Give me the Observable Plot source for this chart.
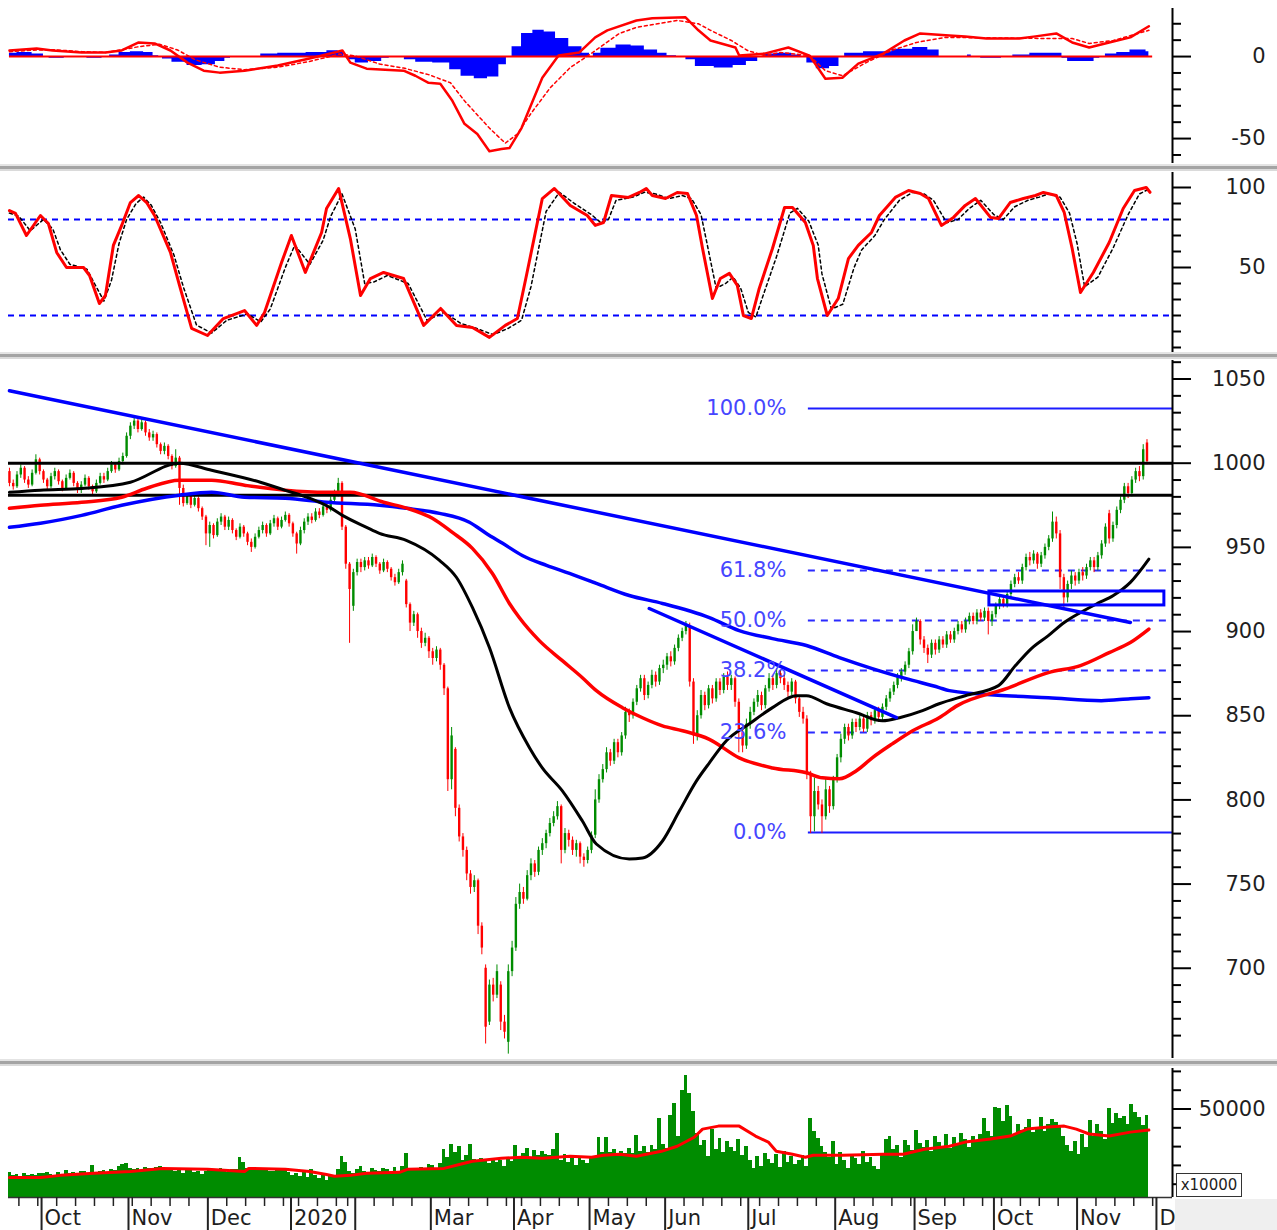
<!DOCTYPE html>
<html><head><meta charset="utf-8">
<script src="https://cdn.jsdelivr.net/npm/d3@7"></script>
<script src="https://cdn.jsdelivr.net/npm/@observablehq/plot@0.6"></script>
<style>
html,body{margin:0;padding:0;background:#fff;}
#chart{position:relative;width:1277px;height:1230px;overflow:hidden;background:#fff;font-family:"DejaVu Sans",sans-serif;}
#chart svg{position:absolute;left:0;}
.ov{position:absolute;z-index:5;}
</style></head><body><div id="chart"></div><script>
// ---------------- calendar (trading days) ----------------
const calendarStart = "2019-09-18", calendarEnd = "2020-12-05";
const holidays = ["2020-01-01","2020-01-23","2020-01-24","2020-01-27","2020-01-28","2020-01-29","2020-04-02","2020-04-30","2020-05-01","2020-09-02"];
const monthLabels = ["Oct","Nov","Dec","2020","","Mar","Apr","May","Jun","Jul","Aug","Sep","Oct","Nov","Dec"];

// ---------------- daily candles (index 0 = 2019-09-18) ----------------
const open = [995,988,986,993,997,990,987,994,1002,
995,990,986,992,995,989,985,991,994,988,984,987,991,986,983,988,992,990,995,999,996,1001,1004,
1016,1022,1025,1020,1024,1018,1015,1017,1011,1007,1010,1004,998,1003,985,976,980,975,979,973,968,
958,963,957,965,968,962,966,960,956,962,958,953,950,956,960,963,958,964,967,962,966,969,
964,958,952,960,965,968,966,971,969,974,972,978,982,988,962,940,915,
935,941,938,942,939,944,940,936,941,937,932,929,935,930,916,905,910,900,893,896,
888,884,889,880,866,812,830,795,778,770,756,748,752,725,700,668,690,684,690,668,656,698,
712,738,745,741,755,762,757,770,774,780,786,790,796,770,780,776,770,774,766,764,
770,779,800,812,818,828,823,834,828,838,852,850,858,866,872,862,868,874,870,878,
880,885,882,890,896,900,903,870,838,850,862,856,866,860,870,865,873,868,872,858,840,832,
845,852,858,862,856,866,872,868,875,872,868,864,870,860,852,848,815,790,805,797,790,806,796,
812,825,836,843,838,846,843,848,842,850,847,853,849,855,860,864,868,873,876,880,888,
900,906,895,890,886,893,889,895,892,898,895,900,904,901,906,909,906,911,908,912,906,
910,915,919,916,922,928,932,930,938,944,942,946,940,945,950,955,965,958,932,920,928,933,
930,935,933,938,942,938,945,952,970,955,963,972,978,986,982,990,995,992,1012];
const close = [988,986,993,997,990,987,994,1002,995,
990,986,992,995,989,985,991,994,988,984,987,991,986,983,988,992,990,995,999,996,1001,1004,1016,
1022,1025,1020,1024,1018,1015,1017,1011,1007,1010,1004,998,1003,985,976,980,975,979,973,968,958,
963,957,965,968,962,966,960,956,962,958,953,950,956,960,963,958,964,967,962,966,969,964,
958,952,960,965,968,966,971,969,974,972,978,982,988,962,940,925,935,
941,938,942,939,944,940,936,941,937,932,929,935,940,916,905,910,900,893,896,888,
884,889,880,866,812,838,795,778,770,756,748,752,725,712,665,690,684,698,668,662,698,712,
738,745,741,755,762,757,770,774,780,786,790,796,770,780,776,770,774,766,764,770,
779,800,812,818,828,823,834,828,838,852,850,858,866,872,862,868,874,870,878,880,
885,882,890,896,900,904,870,838,850,862,856,866,860,870,865,873,868,872,858,840,832,845,
852,858,862,856,866,872,868,875,872,868,864,870,860,852,848,815,790,805,797,790,806,796,812,
825,836,843,838,846,843,848,842,850,847,853,849,855,860,864,868,873,876,880,888,900,
906,895,890,886,893,889,895,892,898,895,900,904,901,906,909,906,911,908,912,906,910,
915,919,916,922,928,932,930,938,944,942,946,940,945,950,955,965,958,932,920,928,933,930,
935,933,938,942,938,945,952,962,955,963,972,978,986,982,990,995,992,1008,1001];
const high = [997,990,995,999,998,992,996,1005,1003,
996,991,994,997,996,990,993,996,995,989,989,993,992,987,990,994,994,997,1001,1000,1003,1006,1018,
1024,1028,1026,1026,1025,1020,1019,1018,1012,1012,1011,1005,1008,1004,987,982,981,981,980,974,969,
965,964,967,970,969,968,967,961,964,963,959,955,958,962,965,964,966,969,968,968,971,970,
965,959,962,967,970,970,973,973,976,976,980,984,991,989,963,941,937,
943,943,944,944,946,945,941,943,942,938,934,937,942,931,917,912,911,902,899,897,
890,891,890,881,867,843,831,797,780,772,758,755,753,727,702,693,694,702,692,672,702,716,
742,750,748,758,765,764,772,777,782,789,793,799,797,783,782,778,776,775,768,772,
781,806,815,821,831,830,836,836,840,855,854,860,868,874,874,870,877,876,880,883,
887,888,892,898,902,906,905,872,853,865,864,868,868,872,872,875,876,874,873,860,842,848,
855,860,865,864,868,875,874,878,877,874,870,872,871,862,855,850,817,813,808,800,813,808,814,
827,839,845,845,848,848,850,850,852,852,855,855,857,862,866,870,875,878,882,890,904,
908,907,897,892,895,895,897,897,900,900,902,906,906,908,911,911,913,913,914,914,912,
917,921,921,924,930,934,935,940,946,947,948,947,947,952,957,971,968,960,934,930,936,935,
937,938,940,944,944,947,954,964,972,965,974,980,988,988,992,997,998,1011,1014];
const low = [986,984,985,991,988,985,986,993,993,
988,984,985,990,987,983,984,990,986,982,982,986,984,981,982,987,988,989,994,994,995,999,1003,
1014,1020,1018,1019,1016,1013,1013,1009,1005,1005,1002,996,997,975,974,975,973,974,971,966,951,
950,955,956,963,960,960,958,954,955,956,951,947,949,955,958,956,957,962,960,961,965,962,
956,946,951,958,963,964,965,967,968,970,971,976,980,960,937,893,912,
933,935,936,937,938,938,934,935,935,930,927,928,933,914,900,903,896,890,891,884,
880,882,877,862,805,806,790,775,766,752,744,745,720,708,655,666,680,682,663,658,649,695,
710,735,738,740,752,754,755,767,771,778,784,788,762,768,772,767,766,762,760,762,
768,777,798,810,816,820,821,825,826,836,846,848,856,864,859,860,866,867,868,875,
877,879,880,888,894,898,867,833,835,848,853,854,857,858,862,863,865,865,855,828,828,830,
842,850,855,853,854,864,865,866,869,865,861,862,857,849,845,812,780,781,794,780,788,792,794,
810,822,833,835,836,840,841,840,840,844,845,846,847,853,858,862,866,870,874,878,886,
900,892,887,881,884,886,887,890,890,893,893,898,899,899,904,904,904,906,906,898,903,
908,913,914,914,920,926,928,928,936,939,940,937,938,943,948,953,955,925,914,917,925,927,
928,930,931,936,935,936,943,950,952,953,961,970,976,979,980,988,989,990,999];
const volume = [16000,14500,15000,14000,15500,14800,15200,14600,15800,
15500,16000,15200,14800,16200,15000,17500,15600,16000,15800,16500,17000,15400,20000,16200,16800,17500,16400,18000,17200,19500,20500,20800,18500,
17800,18600,17000,19000,18200,17500,18800,19200,18000,17600,18400,16500,17800,15800,17200,18500,16000,17000,15200,16800,
17500,18000,16800,18600,17200,16400,18000,17800,24000,21500,18400,17800,18800,18200,17600,18600,17000,16800,17900,18300,17600,16000,
14500,15800,14200,16200,13800,17800,14600,12800,15400,12200,14600,13500,17800,25000,21600,16500,15800,
17600,19200,16800,15600,18200,17400,16600,18400,17800,15800,18800,16200,19200,26500,18600,17800,18400,19000,18200,20500,
19800,18600,21000,28500,24200,31000,27000,30000,22800,25500,31200,23000,21800,23600,22400,20800,23400,21600,22600,19600,23000,22000,
30500,24600,26500,29000,24200,27800,25200,27600,26000,25400,28200,37000,22800,25600,21800,24200,19800,23600,22400,21000,
23800,24600,34800,27000,34600,26800,28600,25200,27400,26400,28800,26200,36000,27500,29800,26800,30400,28200,44800,31000,
29200,46500,52800,35500,60000,68000,58000,48500,37000,30500,33400,24600,39000,28600,34200,26800,32600,29400,27600,33600,25400,30200,
22800,18200,24500,19200,26500,23200,20800,25600,19000,27200,21800,24600,20400,22800,25400,19200,44800,38000,34400,29800,27000,24200,32600,
20500,26800,22600,18400,25200,23800,20600,27400,21800,24400,19600,17600,26000,33800,35400,28200,30600,24400,33000,30800,27800,
38800,31600,29400,33400,27600,35200,32400,30200,36400,28800,34800,31600,37200,33800,29600,35600,32800,36400,44800,38200,35400,
51000,50200,43600,51600,45800,36400,42000,38600,40400,44600,37400,39400,45600,37800,41600,44200,42800,40600,35200,30400,27200,32600,
25800,36200,29600,43800,35200,41600,37800,33600,50200,42200,47600,44800,46200,41800,52600,48400,45400,41200,46600];

// ---------------- moving averages / indicators: [day index, value] ----------------
const maBlack = [[0,982.7],[8.2,984],[19.1,985],[32,988.7],[45,1000],[53.5,995.8],[66.4,988.7],[73,983.9],[79.4,979.2],[84.7,973.8],[88.1,969],[94.5,961.9],[97.9,958.3],[105,954.2],[113.8,942.3],[118.3,932.1],[122.5,914.3],[127,890.5],[132.3,854.8],[137.6,831],[141,819],[146.3,805.4],[151.6,787.5],[155.3,773.8],[164,764.9],[167.5,765.5],[172.8,775.6],[177.3,793.5],[181.8,811.3],[185.2,822],[189.7,835.1],[195.8,845.2],[201.9,854.8],[208.2,861.9],[210.9,861.9],[216.2,857.1],[224.1,851.8],[231,847],[235.5,848.8],[241.6,853],[246,857.1],[252.9,861.9],[261.7,867.9],[266.2,879.8],[270.4,889.9],[274.9,897.6],[279.1,905.4],[283.4,911.3],[287.9,916.7],[292.1,921.4],[296.6,929.2],[301.5,943]];
const maRed = [[0,973.2],[8.2,975],[19.1,976.8],[29.7,979.8],[36.3,985.1],[45,989.9],[53.5,989.9],[62.2,986.9],[73,983.9],[83.9,982.7],[90.2,982.7],[99,976.8],[105.3,973.2],[111.9,967.3],[117.2,958.9],[122.5,949.4],[127.8,934.5],[132.3,916.7],[134.9,908.3],[140.2,894.6],[146.3,882.7],[151.6,872.6],[155.3,864.9],[162.2,854.8],[167.5,848.8],[172.8,844],[178.1,841.1],[185.2,836],[193.1,825],[201.9,819],[210.9,816.1],[215.1,813.1],[219.6,812.5],[224.1,817.3],[228.3,825],[233.6,833.3],[239,841.1],[246,848.8],[250.8,856],[263.8,866.1],[274.9,875.6],[283.4,879.8],[291,887.5],[296.6,893.5],[301.5,901.5]];
const maBlue = [[0,961.9],[8.2,964.3],[19.1,969],[29.7,975],[45,981],[53.5,982.7],[62.2,979.8],[73,979.2],[83.9,976.8],[97.9,975],[105,973.2],[113.8,970.2],[121.7,964.9],[126.2,958.3],[130.5,952.4],[135.7,945.2],[142.1,939.3],[148.2,934.5],[155.3,928.6],[164,921.4],[172.8,916.7],[185.2,908.3],[193.1,900.6],[201.9,895.8],[210.9,891.7],[219.6,884.5],[228.3,878],[237.3,872],[246,866.7],[248.7,864.9],[263.8,861.9],[274.9,860.7],[288.9,858.9],[296.6,860.1],[301.5,860.7]];
const trendLong = [[0,1043],[296.6,905.4]];
const trendShort = [[169.3,913.7],[234.7,848.9]];
const zoneBox = [{a:259.3, b:305.6, lo:915.5, hi:923.8}];
const levelLines = [1000, 981];
const fibLow = 780.6, fibHigh = 1032.5, fibStartIdx = 211.4;
const fibPercents = [100, 61.8, 50, 38.2, 23.6, 0];

const macdLine = [[0,3.7],[7.2,4.9],[11.4,3.7],[19.1,2.5],[25.4,2.5],[29.7,3.7],[34.2,8.6],[38.4,8],[42.6,3.7],[47.1,-3.7],[51.4,-8.6],[55.6,-9.8],[62.2,-8.6],[71,-5.5],[79.4,-1.2],[86,2.5],[88.1,3.7],[90.2,-3.7],[94.5,-7.4],[104.3,-8.6],[107.4,-11.7],[110.9,-16],[114,-16.6],[117.2,-27],[120.4,-41],[123.8,-47.2],[127,-57.7],[130.2,-56.4],[132.3,-55.8],[135.5,-43.6],[141,-12.9],[145.3,0.6],[150.8,2.5],[155,11.7],[158.2,16],[165.9,22],[170.1,23.3],[178.9,23.9],[182.3,16],[185.5,9.8],[192.1,5.5],[193.1,0.6],[199.8,1.8],[206.1,5.5],[211.7,0.6],[215.9,-13.5],[220.4,-12.9],[224.6,-4.3],[231.2,1.8],[236.8,9.8],[241,14.1],[248.7,12.9],[252.9,12.3],[258.5,11],[267.2,11],[271.5,12.3],[277,14.1],[281.2,8.6],[285.7,5.5],[291,8.6],[296.6,11.7],[301.5,18.5]];
const macdSignal = [[0,3],[7.2,4],[11.4,4.2],[19.1,3],[25.4,2.5],[34.2,6],[39.7,7.5],[44.5,4],[49.2,-2],[55.6,-6.5],[62.2,-8],[71,-6.5],[79.4,-3],[87.3,1.5],[91.3,0.5],[97.9,-4.5],[104.3,-7],[110.9,-11],[116.7,-16],[120.4,-27],[127,-43.6],[131.2,-52.8],[134.4,-47.2],[137.9,-35],[143.1,-19],[148.4,-6.7],[153.9,1.8],[161.4,14.1],[165.9,17.8],[176.7,22],[182.3,20],[185.5,16],[191,9.8],[195.3,3.7],[199.8,0.6],[204,2.5],[211.7,0.6],[215.9,-8.6],[220.4,-11.7],[226.7,-3.7],[233.4,3.7],[240,8.6],[247.6,11.7],[274.9,11],[281.2,11],[285.7,8],[292.1,9.8],[301.5,16]];
const macdHist = [[0,2],[4,2.5],[8,1.5],[10,0],[11,-1],[14,-1],[15,0],[20,0],[21,-1],[24,-1],[25,0],[28,1],[30,2.5],[34,3],[37,2.5],[39,0.5],[40,0],[41,-1.5],[45,-3.5],[49,-5.5],[53,-5],[56,-3],[58,-1],[59,0],[66,0],[67,1.5],[75,2],[82,2.5],[86,3.5],[88,3],[89,0],[90,-2],[93,-4],[97,-3],[100,-1],[101,0],[104,0],[105,-2],[110,-3.5],[114,-4],[115,-4],[118,-8],[121,-12],[125,-13.5],[128,-12.5],[131,-5],[132,0],[134,6],[137,14],[140,16],[143,15],[146,11],[150,6],[153,2],[154,0],[155,2],[158,5],[163,7],[166,6.5],[170,4],[173,2],[175,0.5],[178,0],[180,-2],[183,-6],[190,-7],[193,-5.5],[197,-3],[199,0],[200,1.5],[205,2],[209,1],[210,0],[212,-4],[215,-7.5],[219,-6],[220,0],[222,2],[230,3],[237,4.5],[241,5.5],[245,4],[247,0],[253,0],[254,1],[255,0],[259,-1],[262,-1],[263,0],[268,1],[272,2],[278,2],[279,-1],[281,-3],[286,-3],[288,-1],[289,0],[291,1.5],[295,2.5],[298,4],[300,4],[301.5,3]];
const macdZeroSpan = [0, 302.5];

const stochK = [[0,85.6],[1.6,83.8],[4.5,70],[8.2,82.5],[10.3,77.5],[12.5,59.4],[15.1,50],[19.6,50],[21.2,45],[23.8,27.5],[25.4,32.5],[27.5,63.8],[29.7,76.3],[32,90.6],[34.2,95],[36.3,90.6],[38.4,82.5],[42.6,59.4],[45,38.8],[48.2,11.9],[52.4,7.5],[56.6,18.1],[62.2,23.1],[65.4,13.8],[67.5,21.9],[72,53.1],[74.6,70],[78.3,46.9],[82.6,71.9],[83.9,86.9],[87.1,99.4],[90.2,68.1],[92.9,32.5],[95.5,43.1],[99,46.9],[104.3,43.1],[109.6,13.8],[114.1,24.4],[118.3,13.8],[122.5,12.5],[127,6.3],[131.2,13.8],[134.4,18.1],[136.8,45],[141,93.1],[144.2,99.4],[148.4,88.8],[152.9,82.5],[155,76.3],[157.2,78.1],[159.3,95],[163.8,93.8],[166.7,96.9],[168.5,99.4],[170.1,95],[173.6,93.1],[176.7,96.9],[179.4,96.3],[181.8,82.5],[183.4,61.9],[186,30.6],[188.1,43.1],[190.5,46.3],[192.6,38.8],[194.2,20],[196.3,18.1],[198.4,36.9],[201.9,61.9],[205.1,87.5],[207.2,87.5],[210.6,78.1],[212.7,63.8],[213.8,43.1],[216.4,20],[219.3,30.6],[222,55.6],[224.6,63.8],[228.1,71.9],[230.2,82.5],[234.4,93.8],[237.9,98.1],[241,96.3],[243.2,93.1],[246.6,76.3],[249.8,81.3],[252.9,88.8],[255.6,93.1],[259.6,81.3],[261.7,80.6],[264.8,90.6],[268.3,93.1],[271.5,95],[273.6,96.9],[277,95],[279.1,84.4],[281.2,61.9],[283.4,34.4],[286.8,46.9],[291,65.6],[294.7,86.9],[297.7,98.1],[300.8,100],[301.8,97]];
const stochD = [[0,84],[2.5,82],[5.5,73],[9,80],[11.5,74],[13.5,61],[16,52],[20.5,49],[22.5,40],[25,29],[27,42],[29,65],[31,80],[33.5,90],[35.5,94],[37.5,89],[40,78],[43.5,58],[46,38],[49.5,14],[53.5,9],[57.5,17],[63,21],[66.5,16],[69,24],[73,50],[75.5,64],[79.5,52],[83,67],[85,82],[88,96],[91.5,74],[94,40],[96.5,41],[100,45],[105.5,40],[110.5,17],[115,22],[119.5,15],[123.5,12],[128,8],[132,12],[135.5,17],[138,38],[142,85],[145.5,97],[149.5,90],[154,83],[156.5,78],[158.5,80],[160.5,92],[165,94],[168,97],[171,96],[174.5,93],[178,95],[180.5,93],[183,83],[184.5,66],[187,37],[189.5,40],[191.5,44],[193.5,37],[195.5,22],[197.5,19],[199.5,33],[203,57],[206.5,84],[208.5,87],[211.5,79],[214,64],[215,46],[217.5,24],[220.5,27],[223.5,50],[225.5,61],[229,70],[231.5,80],[235.5,92],[239,97],[242,96],[244.5,92],[248,78],[251,80],[254,87],[257,92],[260.5,83],[263,80],[266,88],[269.5,92],[272.5,94],[275,96],[278,94],[280.5,84],[282.5,65],[284.5,38],[288,44],[292,62],[296,83],[299,96],[301.5,99]];
const stochBands = [80, 20];

const volMA = [[0,13600],[8.2,13600],[13.5,14700],[22.3,15800],[32,16800],[40.5,18400],[52.4,17900],[62.2,16800],[63.3,18400],[73,17900],[79.4,16800],[83.9,15200],[86,14200],[90.2,14700],[94.5,15800],[103.2,16300],[105.3,17900],[115,18400],[119.3,20600],[122.5,22200],[130.2,23800],[135.5,24300],[141,23800],[148.4,24900],[154,24300],[157.2,25400],[161.4,25900],[165.9,24900],[172.5,27500],[176.7,30200],[181.2,35000],[183.4,39300],[187.6,40900],[193.1,40900],[197.4,35600],[200.8,32400],[202.9,27500],[207.2,25900],[210.6,24300],[212.7,25400],[220.4,25400],[231.2,25900],[236.5,25900],[242.1,28600],[248.7,30200],[252.9,32400],[259.6,34000],[264.8,35600],[269.3,39300],[274.9,40400],[279.1,40900],[282.3,39300],[285.7,36700],[291,35600],[296.6,37700],[301.5,38800]];

// ---------------- axis ticks ----------------
const macdMajor = [0, -50], macdMinor = [20, 10, -10, -20, -30, -40, -60];
const stochMajor = [100, 50], stochMinor = [90, 80, 70, 60, 40, 30, 20, 10, 0];
const priceMajor = [1050, 1000, 950, 900, 850, 800, 750, 700];
const priceMinor = d3.range(650, 1061, 10).filter(v => v % 50 !== 0);
const volMajor = [50000], volMinor = [10000, 20000, 30000, 40000, 60000, 70000];

// ---------------- build ----------------
const fmtDay = d3.utcFormat("%Y-%m-%d");
const tradingDays = d3.utcDays(new Date(calendarStart), new Date(calendarEnd))
  .filter(d => d.getUTCDay() !== 0 && d.getUTCDay() !== 6 && !holidays.includes(fmtDay(d)));
const monthStarts = [], weekStarts = [];
tradingDays.forEach((d, i) => {
  if (i === 0) return;
  const p = tradingDays[i - 1];
  if (d.getUTCMonth() !== p.getUTCMonth()) monthStarts.push(i);
  else if (+d3.utcMonday.floor(d) !== +d3.utcMonday.floor(p)) weekStarts.push(i);
});
const monthTickPos = monthStarts.map(i => i - 0.5);
const weekTickPos = weekStarts.map(i => i - 0.5);
const monthLabelOf = new Map(monthTickPos.map((p, k) => [p, monthLabels[k] ?? ""]));

const P = arr => arr.map(([i, v]) => ({i, v}));
const candles = open.map((o, i) => ({i, o, c: close[i], h: high[i], l: low[i]}));
const up = candles.filter(d => d.c >= d.o), down = candles.filter(d => d.c < d.o);
const vols = volume.map((v, i) => ({i, v, a: i - 0.5, b: i + 0.5}));
const fib = fibPercents.map(p => ({p, v: fibLow + (fibHigh - fibLow) * p / 100, a: fibStartIdx, b: 307.75, label: p.toFixed(1) + "%"}));

const W = 1277, ML = 8, MR = 105;
const XD = [-0.25, 307.75];
const RED = "#ff0000", BLUE = "#0000ff", GREEN = "#008c00", BLACK = "#000000", TXT = "#1e1e1e";
const style = {fontFamily: "'DejaVu Sans', sans-serif", fontSize: "21px", color: BLACK, background: "transparent", overflow: "visible"};

function rightAxis(major, minor, fmt) {
  return [
    Plot.ruleX([XD[1]], {stroke: BLACK, strokeWidth: 2}),
    Plot.axisY(minor, {anchor: "right", tickSize: 8, stroke: BLACK, strokeWidth: 2, fill: "none", label: null}),
    Plot.axisY(major, {anchor: "right", tickSize: 18, stroke: BLACK, strokeWidth: 2, tickPadding: 75, textAnchor: "end", fill: TXT, fontSize: 21, tickFormat: fmt || (d => String(d)), label: null})
  ];
}
function base(h, mt, mb, ydom, marks) {
  return Plot.plot({width: W, height: h, marginLeft: ML, marginRight: MR, marginTop: mt, marginBottom: mb,
    x: {domain: XD, axis: null}, y: {domain: ydom, label: null}, style, marks});
}

const macdSvg = base(165, 8, 2, [-65.2, 29.3], [
  Plot.areaY(P(macdHist), {x: "i", y: "v", fill: BLUE, curve: "step"}),
  Plot.ruleY([{y: 0, a: macdZeroSpan[0], b: macdZeroSpan[1]}], {y: "y", x1: "a", x2: "b", stroke: RED, strokeWidth: 2}),
  Plot.line(P(macdSignal), {x: "i", y: "v", stroke: RED, strokeWidth: 1.5, strokeDasharray: "3,3"}),
  Plot.line(P(macdLine), {x: "i", y: "v", stroke: RED, strokeWidth: 2.5}),
  ...rightAxis(macdMajor, macdMinor)
]);

const stochSvg = base(184, 2, 2, [-3.125, 109.375], [
  Plot.ruleY(stochBands, {stroke: BLUE, strokeWidth: 2, strokeDasharray: "6,5"}),
  Plot.line(P(stochD), {x: "i", y: "v", stroke: BLACK, strokeWidth: 1.5, strokeDasharray: "3,3"}),
  Plot.line(P(stochK), {x: "i", y: "v", stroke: RED, strokeWidth: 3}),
  ...rightAxis(stochMajor, stochMinor)
]);

const mainSvg = base(701, 1, 2, [646.4, 1061], [
  Plot.ruleY(fib.filter(d => d.p === 100 || d.p === 0), {y: "v", x1: "a", x2: "b", stroke: "#1c1cff", strokeWidth: 2}),
  Plot.ruleY(fib.filter(d => d.p !== 100 && d.p !== 0), {y: "v", x1: "a", x2: "b", stroke: "#2a2aff", strokeWidth: 2, strokeDasharray: "7,6"}),
  Plot.ruleX(up, {x: "i", y1: "l", y2: "h", stroke: GREEN, strokeWidth: 1}),
  Plot.ruleX(up, {x: "i", y1: "o", y2: "c", stroke: GREEN, strokeWidth: 2.4}),
  Plot.ruleX(down, {x: "i", y1: "l", y2: "h", stroke: RED, strokeWidth: 1}),
  Plot.ruleX(down, {x: "i", y1: "o", y2: "c", stroke: RED, strokeWidth: 2.4}),
  Plot.ruleY(levelLines, {stroke: BLACK, strokeWidth: 3}),
  Plot.line(P(maBlue), {x: "i", y: "v", stroke: BLUE, strokeWidth: 3.5, curve: "monotone-x"}),
  Plot.line(P(maRed), {x: "i", y: "v", stroke: RED, strokeWidth: 3.5, curve: "monotone-x"}),
  Plot.line(P(maBlack), {x: "i", y: "v", stroke: BLACK, strokeWidth: 3, curve: "monotone-x"}),
  Plot.line(P(trendLong), {x: "i", y: "v", stroke: BLUE, strokeWidth: 3.5}),
  Plot.line(P(trendShort), {x: "i", y: "v", stroke: BLUE, strokeWidth: 3.5}),
  Plot.rect(zoneBox, {x1: "a", x2: "b", y1: "lo", y2: "hi", stroke: BLUE, strokeWidth: 3, fill: "none"}),
  Plot.text(fib, {x: "a", y: "v", text: "label", textAnchor: "end", dx: -22, fill: "#4646ff", fontSize: 21}),
  ...rightAxis(priceMajor, priceMinor)
]);

const volSvg = base(164, 2, 33, [2930, 71540], [
  Plot.rect(vols, {x1: "a", x2: "b", y1: d => 0, y2: "v", fill: GREEN, clip: true, shapeRendering: "crispEdges"}),
  Plot.line(P(volMA), {x: "i", y: "v", stroke: RED, strokeWidth: 3}),
  Plot.ruleY([2930], {stroke: "#333", strokeWidth: 1.5}),
  ...rightAxis(volMajor, volMinor),
  Plot.axisX(weekTickPos, {anchor: "bottom", tickSize: 9, stroke: "#222", strokeWidth: 1.5, fill: "none", label: null}),
  Plot.axisX(monthTickPos, {anchor: "bottom", tickSize: 33, stroke: "#222", strokeWidth: 2, fill: "none", label: null}),
  Plot.axisX(monthTickPos, {anchor: "bottom", tickSize: 0, tickPadding: 13, textAnchor: "start", dx: 3, fill: TXT, fontSize: 21, tickFormat: d => monthLabelOf.get(d), label: null})
]);

const chart = document.getElementById("chart");
[[macdSvg, 0], [stochSvg, 170], [mainSvg, 359], [volSvg, 1066]].forEach(([svg, top]) => {
  svg.style.top = top + "px";
  chart.appendChild(svg);
});
function ov(css, text) {
  const d = document.createElement("div");
  d.className = "ov";
  d.style.cssText = css;
  if (text) d.textContent = text;
  chart.appendChild(d);
}
// panel separators
[[164, 169], [352, 357], [1059, 1064]].forEach(([a, b]) => {
  ov(`left:0;top:${a}px;width:1277px;height:2px;background:#e4e4e4;`);
  ov(`left:0;top:${a + 2}px;width:1277px;height:3px;background:#a4a4a4;`);
  ov(`left:0;top:${b}px;width:1277px;height:2px;background:#dadada;`);
});
ov("left:1175px;top:1199px;width:102px;height:31px;background:#efefef;");
ov("left:1176px;top:1173px;width:64px;height:22px;border:1.5px solid #333;background:#fff;font:15px 'DejaVu Sans',sans-serif;color:#1e1e1e;line-height:22px;text-align:center;", "x10000");
</script></body></html>
